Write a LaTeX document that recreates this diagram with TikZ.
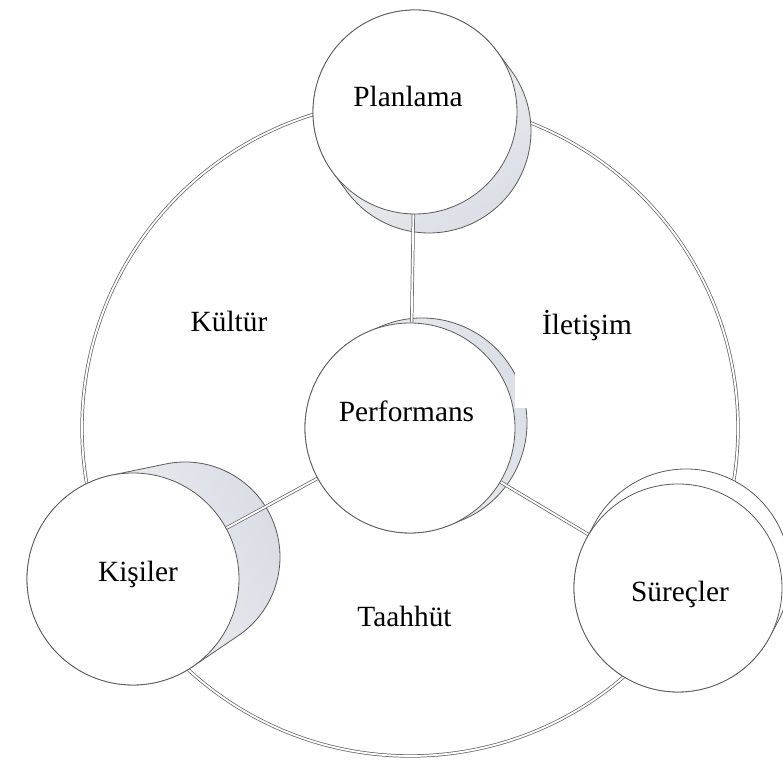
\documentclass[tikz,border=0pt]{standalone}
\usepackage{fontspec}
\setmainfont{Liberation Serif}
\usetikzlibrary{calc}

\pgfdeclarelayer{bg}
\pgfdeclarelayer{mid}
\pgfsetlayers{bg,mid,main}

\definecolor{edge}{RGB}{90,90,90}
\definecolor{ring}{RGB}{100,100,100}
\definecolor{sidelight}{RGB}{250,250,252}
\definecolor{sidedark}{RGB}{218,221,228}

% Side wall of a drum: hull of the front disc (#1,#2; radius #3) and the
% back disc (#4,#5; radius #6), shaded from #7 to #8.
\newcommand\drumside[8]{%
  \pgfmathsetmacro\dX{#4-#1}%
  \pgfmathsetmacro\dY{#5-#2}%
  \pgfmathsetmacro\dD{sqrt(\dX*\dX+\dY*\dY)}%
  \pgfmathsetmacro\dA{atan2(\dY,\dX)}%
  \pgfmathsetmacro\dP{acos((#3-#6)/\dD)}%
  \pgfmathsetmacro\aOne{\dA+\dP}%
  \pgfmathsetmacro\aTwo{\dA-\dP}%
  \pgfmathsetmacro\aThree{\dA+\dP-360}%
  \pgfmathsetmacro\sAng{\dA+90}%
  \path[draw=edge, line width=.6pt, shading=axis, top color=#7, bottom color=#8,
        shading angle=\sAng]
    ($(#1,#2)+(\aOne:#3)$) -- ($(#4,#5)+(\aOne:#6)$)
    arc[start angle=\aOne, end angle=\aTwo, radius=#6]
    -- ($(#1,#2)+(\aTwo:#3)$)
    arc[start angle=\aTwo, end angle=\aThree, radius=#3] -- cycle;
}

\tikzset{
  disc/.style={circle, draw=edge, line width=.6pt, fill=white, inner sep=0pt,
               minimum size=#1},
  link/.style={draw=ring, line width=.55pt, double=white, double distance=1.4pt},
  lbl/.style={font=\fontsize{22}{26}\selectfont, anchor=base, inner sep=0pt}
}

\begin{document}
\begin{tikzpicture}[x=0.75pt, y=0.75pt]
  \useasboundingbox (0,0) rectangle (783,767);

  % front faces of the drums
  \node[disc=153pt]   (plan) at (415,655) {};
  \node[disc=157.5pt] (perf) at (410,339) {};
  \node[disc=159pt]   (kis)  at (133,188) {};
  \node[disc=156pt]   (sur)  at (678,179) {};

  % labels
  \node[lbl] (tplan) at (408,660) {Planlama};
  \node[lbl] (tperf) at (406.5,345) {Performans};
  \node[lbl] (tkis)  at (138,185) {Kişiler};
  \node[lbl] (tsur)  at (680,165) {Süreçler};
  \node[lbl] (ttaah) at (404.5,140) {Taahhüt};
  \node[lbl] (tkult) at (229,435) {Kültür};
  \node[lbl] (tilet) at (587,432) {İletişim};

  \begin{pgfonlayer}{bg}
    \fill[white] (0,0) rectangle (783,767);
    % outer ring through the three outer drums
    \draw[link] (perf.center) circle[radius=328];
    % drum side walls
    \drumside{415}{655}{102}{429}{636}{102}{sidelight}{sidedark}
    \drumside{410}{339}{105}{422}{344}{105}{sidelight}{sidedark}
    \drumside{133}{188}{106}{185}{210}{95}{sidelight}{sidedark}
    \drumside{678}{179}{104}{686}{194}{104}{white}{white}
  \end{pgfonlayer}

  \begin{pgfonlayer}{mid}
    % spokes from the centre drum
    \draw[link] (perf) -- (plan);
    \draw[link] (perf) -- (kis);
    \draw[link] (perf) -- (sur);
    % gap in the rim of the centre drum
    \fill[white] (515,359) rectangle (535,394);
  \end{pgfonlayer}
\end{tikzpicture}
\end{document}
